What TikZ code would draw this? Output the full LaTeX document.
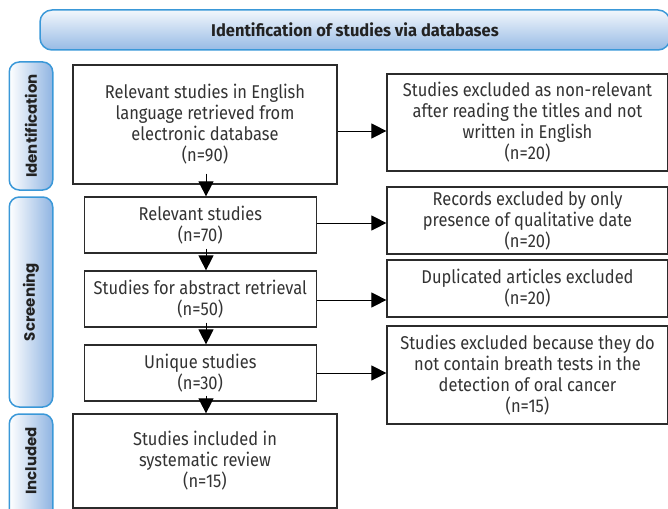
\documentclass[tikz,border=0pt]{standalone}
\usepackage{fontspec}
\setmainfont{Fira Sans}[FakeStretch=0.89]
\newfontfamily\headfont{Fira Sans}[FakeStretch=0.97]
\newfontfamily\sidefont{Poppins}
\usetikzlibrary{arrows.meta,calc}
\definecolor{boxgray}{HTML}{2B2B2B}
\definecolor{textgray}{HTML}{333333}
\definecolor{textdark}{HTML}{222222}
\definecolor{sideblue}{HTML}{3A98D8}
\definecolor{shadeblue}{HTML}{8FB4E2}
\definecolor{headtop}{HTML}{F2F7FC}
\definecolor{headbot}{HTML}{97BBE5}
\begin{document}
\begin{tikzpicture}[x=1pt,y=-1pt,
  box/.style={draw=boxgray,line width=1.2pt,fill=white,align=center,text=textgray,inner sep=0pt,font=\fontsize{18.5}{21}\selectfont},
  arr/.style={draw=black,line width=1pt,-{Triangle[length=15pt,width=15pt]}},
  side/.style={draw=sideblue,line width=1.5pt,rounded corners=10pt,left color=white,right color=shadeblue,inner sep=0pt},
  sidelabel/.style={rotate=90,font=\sidefont\bfseries\fontsize{15}{17}\selectfont,text=textdark},
  header/.style={draw=sideblue,line width=1.5pt,rounded corners=12pt,top color=headtop,bottom color=headbot,inner sep=0pt,font=\headfont\bfseries\fontsize{17}{19}\selectfont,text=textdark}]
\clip (0,0) rectangle (668,508);
\useasboundingbox (0,0) rectangle (668,508);

\node[header,minimum width=630pt,minimum height=40pt] (head) at (355,30) {Identification of studies via databases};

\node[side,minimum width=43.5pt,minimum height=128pt] (sid) at (31,126) {};
\node[sidelabel] (sidl) at (sid.center) {Identification};
\node[side,minimum width=43.5pt,minimum height=210pt] (sscr) at (31,302) {};
\node[sidelabel] (sscrl) at (sscr.center) {Screening};
\node[side,minimum width=43.5pt,minimum height=110pt] (sinc) at (31,469) {};
\node[sidelabel] (sincl) at (31,461) {Included};

\node[box,minimum width=264pt,minimum height=119pt] (b1) at (205,124.5) {Relevant studies in English\\language retrieved from\\electronic database\\(n=90)};
\node[box,minimum width=232pt,minimum height=56pt] (b2) at (200.3,225) {Relevant studies\\(n=70)};
\node[box,minimum width=232pt,minimum height=56pt] (b3) at (200.3,299) {Studies for abstract retrieval\\(n=50)};
\node[box,minimum width=232pt,minimum height=56pt] (b4) at (200.3,373) {Unique studies\\(n=30)};
\node[box,minimum width=264pt,minimum height=94pt] (b5) at (205,461) {Studies included in\\systematic review\\(n=15)};

\node[box,minimum width=281pt,minimum height=97pt] (r1) at (527.5,122.5) {Studies excluded as non-relevant\\after reading the titles and not\\written in English\\(n=20)};
\node[box,minimum width=281pt,minimum height=67pt] (r2) at (527.5,220.5) {Records excluded by only\\presence of qualitative date\\(n=20)};
\node[box,minimum width=281pt,minimum height=57pt] (r3) at (527.5,288.5) {Duplicated articles excluded\\(n=20)};
\node[box,minimum width=281pt,minimum height=98pt] (r4) at (527.5,375) {Studies excluded because they do\\not contain breath tests in the\\detection of oral cancer\\(n=15)};

\draw[arr] (b1.east |- 0,131) -- (r1.west |- 0,131);
\draw[arr] (b2.east |- 0,223) -- (r2.west |- 0,223);
\draw[arr] (b3.east |- 0,300) -- (r3.west |- 0,300);
\draw[arr] (b4.east |- 0,373) -- (r4.west |- 0,373);

\draw[arr] ($(b1.south -| 206,0)+(0,-11)$) -- (b2.north -| 206,0);
\draw[arr] ($(b2.south -| 206,0)+(0,-5)$) -- (b3.north -| 206,0);
\draw[arr] ($(b3.south -| 206,0)+(0,-5)$) -- (b4.north -| 206,0);
\draw[arr] ($(b4.south -| 206,0)+(0,-6)$) -- (b5.north -| 206,0);
\end{tikzpicture}
\end{document}
